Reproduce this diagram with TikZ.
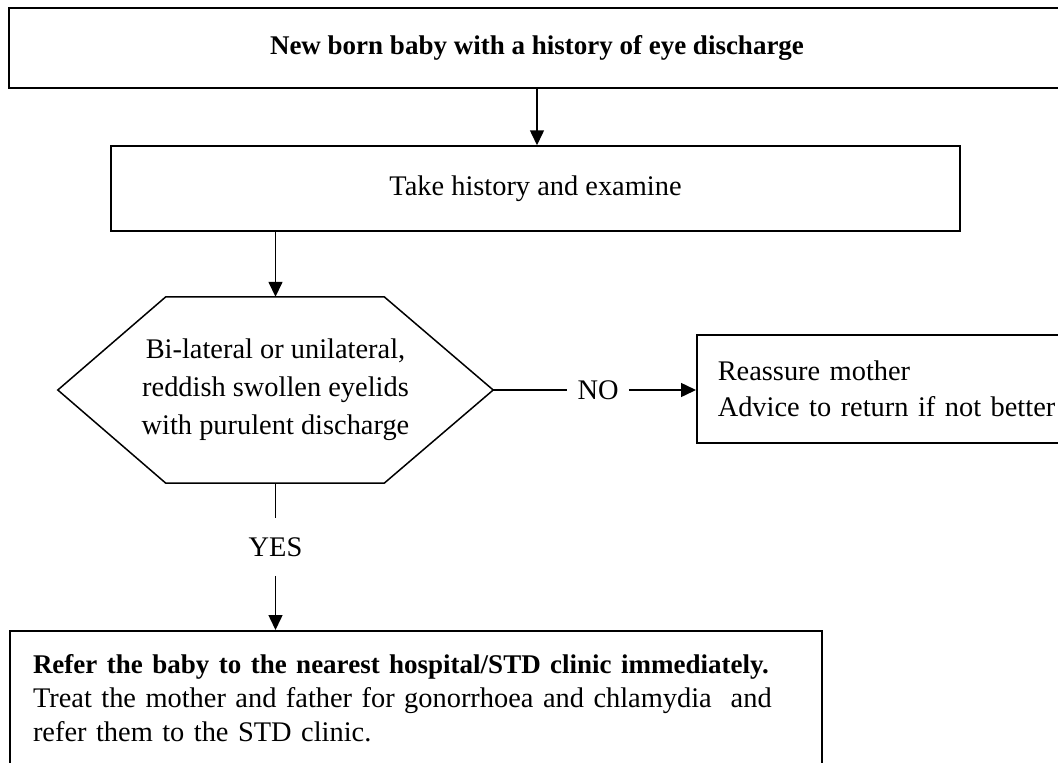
\documentclass[tikz,border=0pt]{standalone}
\usepackage{fontspec}
\setmainfont{Liberation Serif}
\usetikzlibrary{arrows.meta,calc}
\newcommand{\boldline}[1]{{\fontsize{27}{34}\selectfont\bfseries #1}}
\begin{document}
\begin{tikzpicture}[x=1pt,y=-1pt,
  every node/.style={font=\fontsize{28.4}{34}\selectfont},
  box/.style={draw,line width=1.5pt,inner sep=0pt},
  flow/.style={line width=1.5pt},
  arrowflow/.style={flow,-{Triangle[length=15pt,width=14pt]}},
  branchlabel/.style={inner xsep=10pt,inner ysep=19pt}
]
\useasboundingbox (0,0) rectangle (1058,763);
\clip (0,0) rectangle (1058,763);

% start box
\node[box,minimum width=1056pt,minimum height=80pt] (top) at (537,48)
  {\boldline{New born baby with a history of eye discharge}};

% history / examination
\node[box,minimum width=849pt,minimum height=85pt] (take) at (535.5,188.5)
  {Take history and examine};

% decision hexagon (text node, outline drawn below)
\node[inner sep=0pt,minimum width=435pt,minimum height=186pt,align=center,
      font=\fontsize{28.4}{38}\selectfont] (hex) at (275.5,390)
  {Bi-lateral or unilateral,\\reddish swollen eyelids\\with purulent discharge};
\draw[flow] (hex.west) -- ($(hex.north west)+(108,0)$) -- ($(hex.north east)+(-109,0)$)
  -- (hex.east) -- ($(hex.south east)+(-109,0)$) -- ($(hex.south west)+(108,0)$) -- cycle;

% NO branch: box runs on past the right edge
\node[box,anchor=west,minimum height=108pt,inner xsep=21pt,text width=420pt,align=left,
      font=\fontsize{28.4}{36}\selectfont] (reassure) at (696,389)
  {Reassure mother\\Advice to return if not better};

% YES branch: box runs on past the bottom edge
\node[box,anchor=north,inner xsep=23pt,inner ysep=24pt,text width=766pt,align=left] (refer) at (416,630)
  {\boldline{Refer the baby to the nearest hospital/STD clinic immediately.}\\
   Treat the mother and father for gonorrhoea and chlamydia\ \ and\\
   refer them to the STD clinic.};

\node[branchlabel] (no) at ($(hex.east)+(105,0)$) {NO};
\node[branchlabel] (yes) at ($(hex.south)+(0,64)$) {YES};

% connectors
\draw[arrowflow] (top.south) -- (take.north -| top.south);
\draw[arrowflow] (take.south -| hex.north) -- (hex.north);
\draw[flow] (hex.east) -- (no.west);
\draw[arrowflow] (no.east) -- (reassure.west |- no.east);
\draw[flow] (hex.south) -- (yes.north);
\draw[arrowflow] (yes.south) -- (refer.north -| yes.south);
\end{tikzpicture}
\end{document}
